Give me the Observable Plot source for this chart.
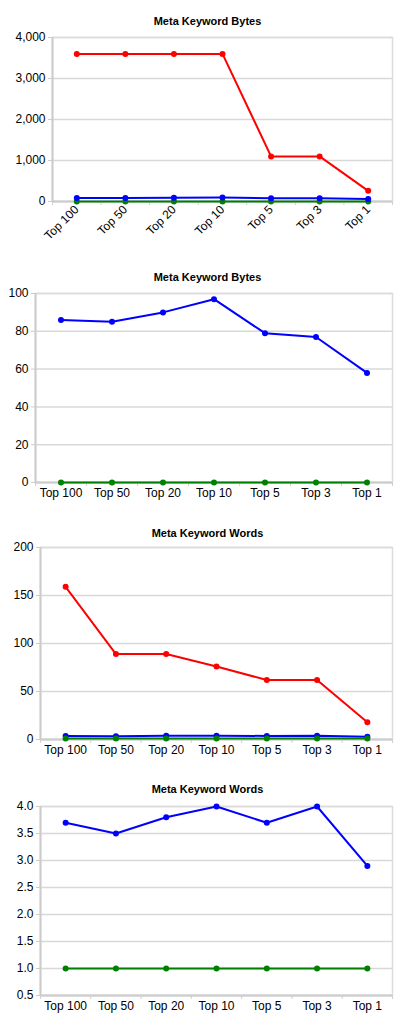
<!DOCTYPE html>
<html>
<head>
<meta charset="utf-8">
<script src="https://cdn.jsdelivr.net/npm/d3@7"></script>
<script src="https://cdn.jsdelivr.net/npm/@observablehq/plot@0.6"></script>
<style>
  html, body { margin: 0; padding: 0; background: #fff; }
  body { width: 415px; height: 1027px; position: relative; overflow: hidden; font-family: "Liberation Sans", Arial, sans-serif; }
  .title { position: absolute; left: 0; width: 415px; text-align: center; font-weight: bold; font-size: 11px; color: #000; }
  .chart { position: absolute; left: 0; }
</style>
</head>
<body>
<script>
const categories = ["Top 100", "Top 50", "Top 20", "Top 10", "Top 5", "Top 3", "Top 1"];
const bytesRed   = [3600, 3600, 3600, 3600, 1100, 1100, 260];
const bytesBlue  = [86, 85, 90, 97, 79, 77, 58];
const bytesGreen = [0, 0, 0, 0, 0, 0, 0];
const wordsRed   = [159, 89, 89, 76, 62, 62, 18];
const wordsBlue  = [3.7, 3.5, 3.8, 4.0, 3.7, 4.0, 2.9];
const wordsGreen = [1, 1, 1, 1, 1, 1, 1];
const titles = ["Meta Keyword Bytes", "Meta Keyword Bytes", "Meta Keyword Words", "Meta Keyword Words"];
const yTicks1 = [0, 1000, 2000, 3000, 4000];
const yTicks2 = [0, 20, 40, 60, 80, 100];
const yTicks3 = [0, 50, 100, 150, 200];
const yTicks4 = [0.5, 1.0, 1.5, 2.0, 2.5, 3.0, 3.5, 4.0];

const colors = {red: "#ff0000", blue: "#0000ff", green: "#008000"};

function rows(series) {
  const out = [];
  for (const [name, vals] of series) vals.forEach((v, i) => out.push({s: name, i, v}));
  return out;
}

function makeChart({series, yDomain, yTicks, yFormat, marginLeft, top, plotH, marginBottom, rotate, title, titleTop}) {
  const data = rows(series);
  const idx = d3.range(categories.length);
  const bounds = d3.range(categories.length + 1).map(i => i - 0.5);
  const marks = [
    Plot.gridY(yTicks, {stroke: "#d8d8d8", strokeOpacity: 1, strokeWidth: 1.5}),
    Plot.frame({stroke: "#dcdcdc", strokeWidth: 1.5}),
    Plot.axisY({ticks: yTicks, tickFormat: yFormat, tickSize: 4, stroke: "#cccccc", tickPadding: 3, fontSize: 12, fill: "#000", label: null}),
    Plot.ruleX([-0.5], {stroke: "#cccccc", strokeWidth: 2}),
    Plot.axisX({ticks: bounds, tickFormat: () => "", tickSize: 4, stroke: "#d0d0d0", label: null}),
    Plot.axisX({ticks: idx, tickFormat: i => categories[i], tickSize: 0, tickPadding: 6,
                tickRotate: rotate ? -45 : 0, textAnchor: rotate ? "end" : "middle", fontSize: 12, fill: "#000", label: null}),
    Plot.ruleY([yDomain[0]], {stroke: "#cccccc", strokeWidth: 2}),
  ];
  for (const [name] of series) {
    const d = data.filter(r => r.s === name);
    marks.push(Plot.line(d, {x: "i", y: "v", stroke: colors[name], strokeWidth: 2}));
    marks.push(Plot.dot(d, {x: "i", y: "v", fill: colors[name], r: 3}));
  }
  const svg = Plot.plot({
    width: 415,
    height: 10 + plotH + marginBottom,
    marginTop: 10,
    marginBottom,
    marginLeft,
    marginRight: 23,
    style: {fontFamily: "'Liberation Sans', Arial, sans-serif", fontSize: "12px", background: "transparent", overflow: "visible"},
    x: {type: "linear", domain: [-0.5, categories.length - 0.5], axis: null, label: null},
    y: {domain: yDomain, axis: null, label: null},
    marks
  });
  const wrap = document.createElement("div");
  wrap.className = "chart";
  wrap.style.top = top + "px";
  wrap.appendChild(svg);
  document.body.appendChild(wrap);
  const t = document.createElement("div");
  t.className = "title";
  t.style.top = titleTop + "px";
  t.textContent = title;
  document.body.appendChild(t);
}

makeChart({series: [["red", bytesRed], ["green", bytesGreen], ["blue", bytesBlue]], yDomain: [0, 4000], yTicks: yTicks1,
  yFormat: d3.format(","), marginLeft: 52, top: 27, plotH: 164, marginBottom: 60, rotate: true, title: titles[0], titleTop: 15});
makeChart({series: [["blue", bytesBlue], ["green", bytesGreen]], yDomain: [0, 100], yTicks: yTicks2,
  yFormat: d3.format("d"), marginLeft: 35, top: 283, plotH: 189, marginBottom: 25, rotate: false, title: titles[1], titleTop: 271});
makeChart({series: [["red", wordsRed], ["blue", wordsBlue], ["green", wordsGreen]], yDomain: [0, 200], yTicks: yTicks3,
  yFormat: d3.format("d"), marginLeft: 40, top: 537, plotH: 192, marginBottom: 25, rotate: false, title: titles[2], titleTop: 527});
makeChart({series: [["blue", wordsBlue], ["green", wordsGreen]], yDomain: [0.5, 4.0], yTicks: yTicks4,
  yFormat: d3.format(".1f"), marginLeft: 40, top: 796, plotH: 189, marginBottom: 25, rotate: false, title: titles[3], titleTop: 783});
</script>
</body>
</html>
